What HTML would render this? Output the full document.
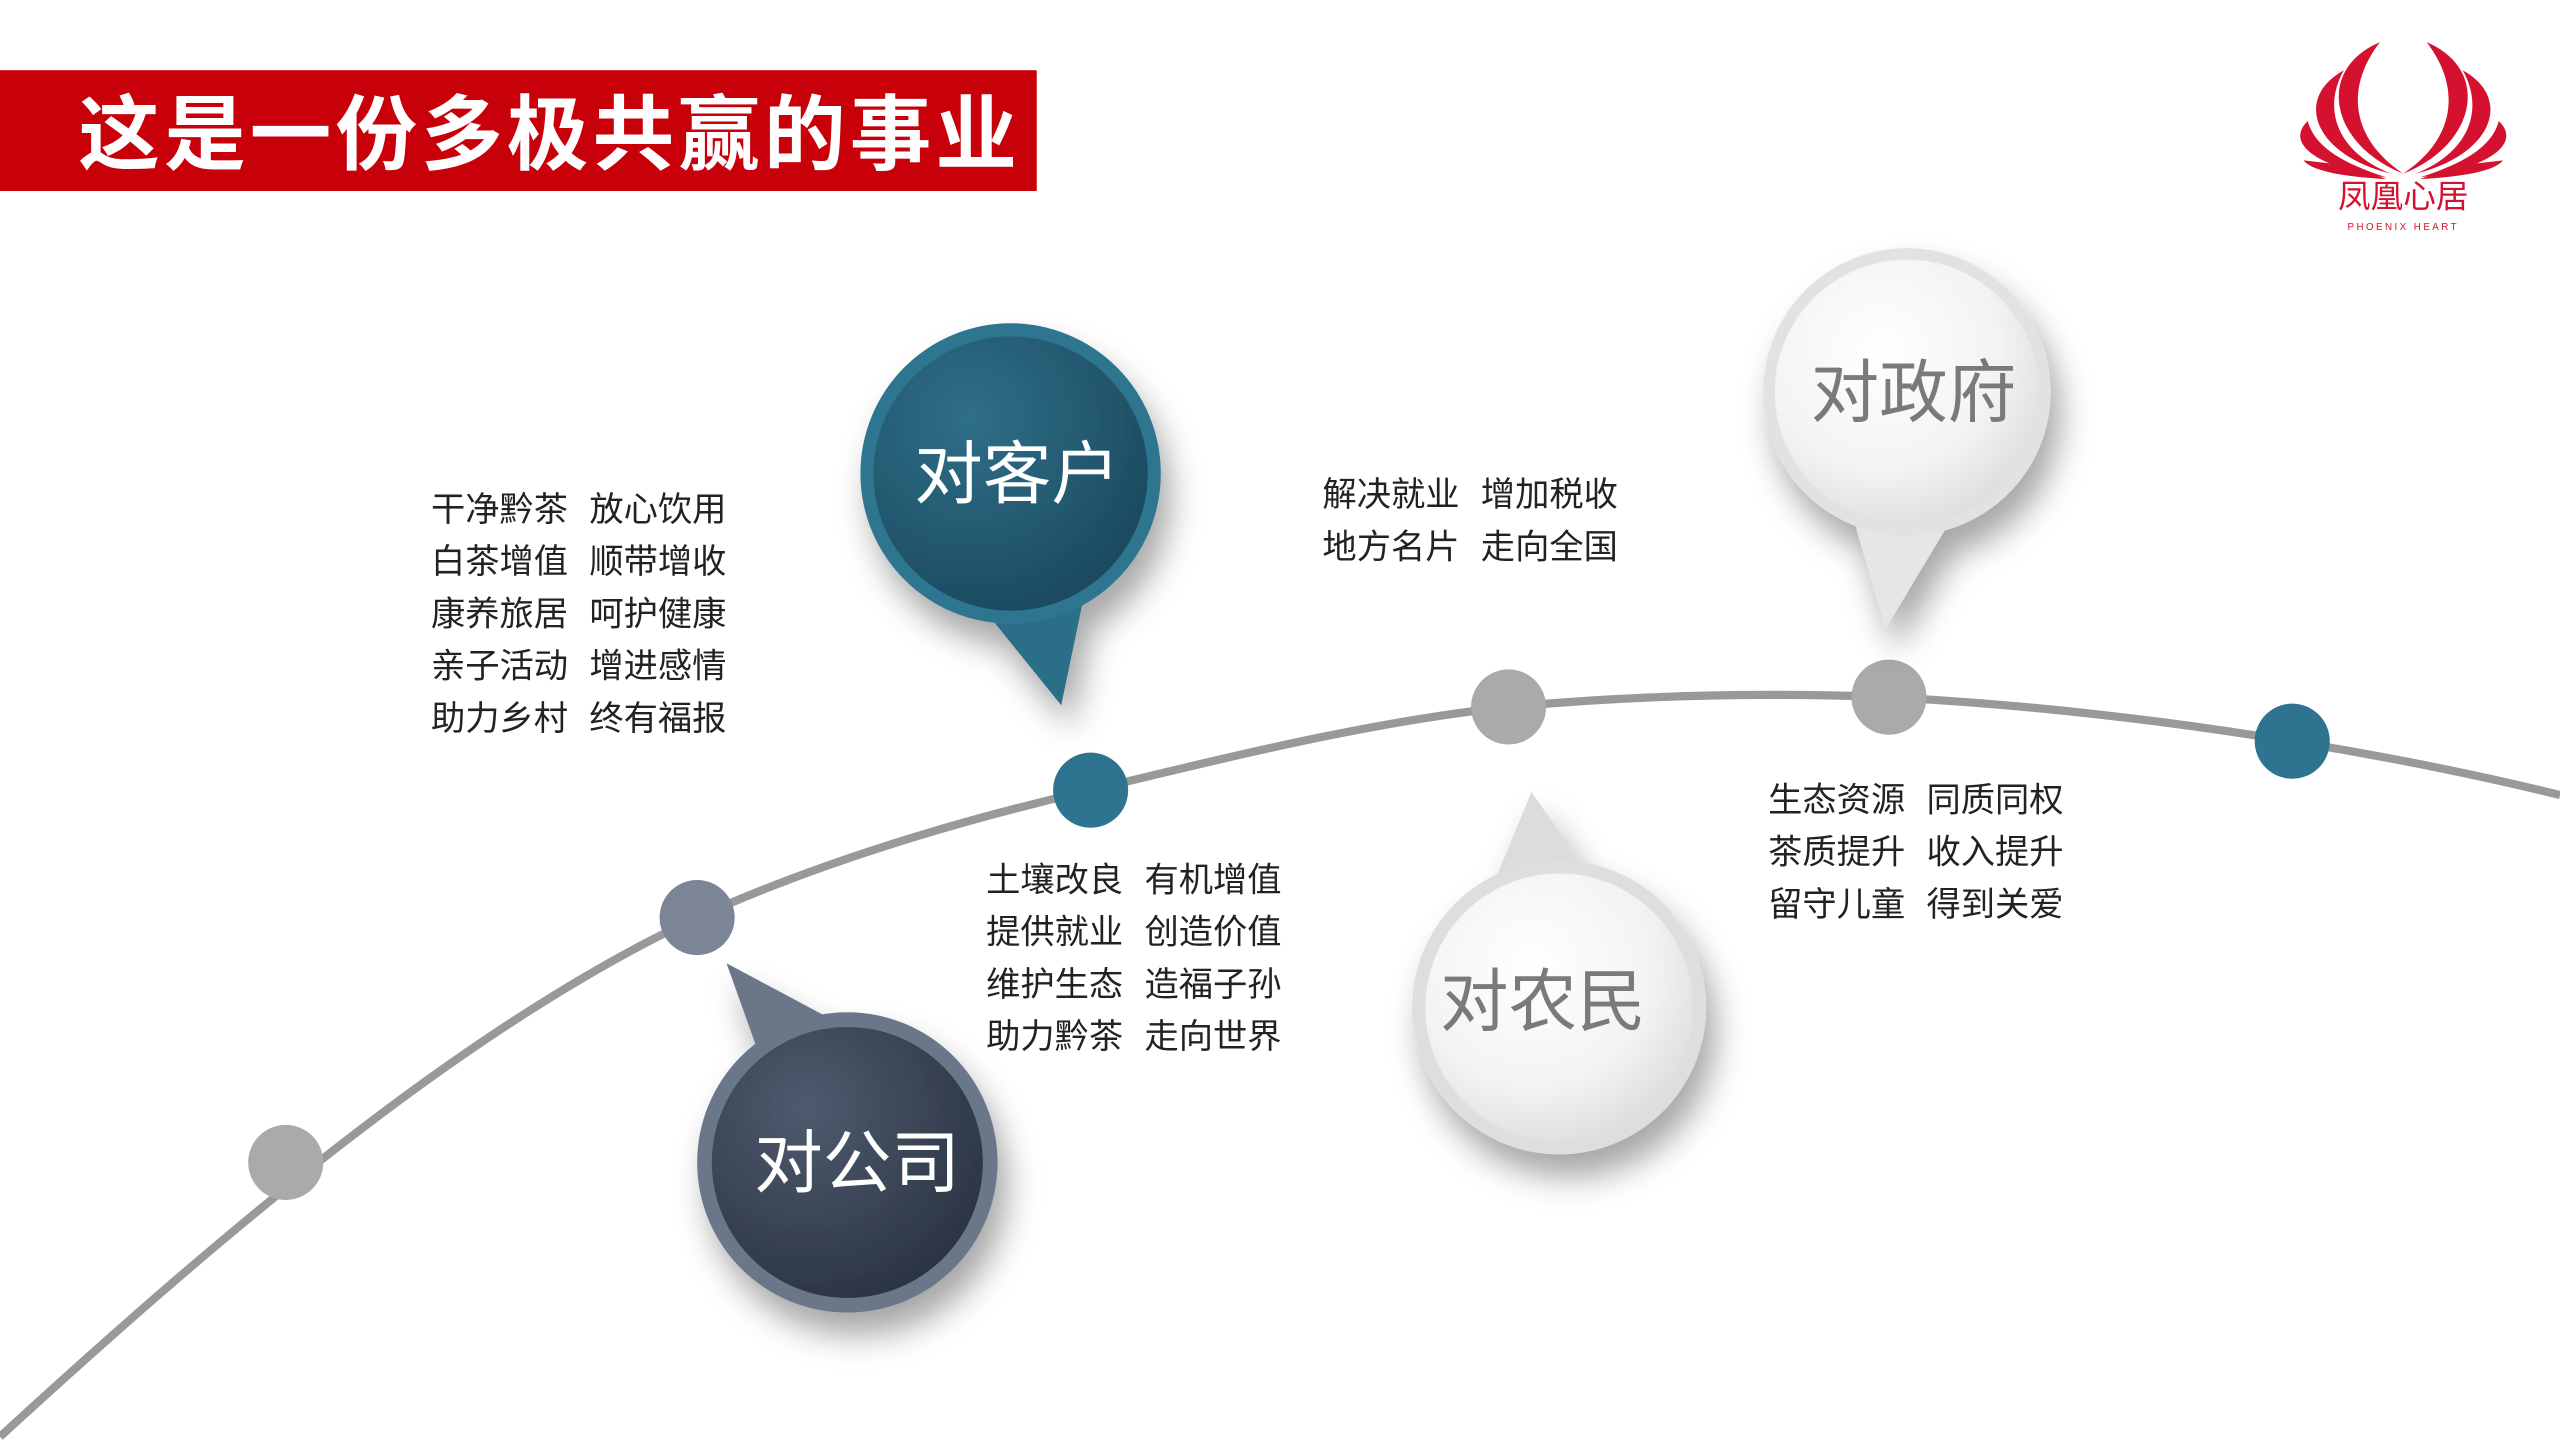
<!DOCTYPE html>
<html><head><meta charset="utf-8"><style>
html,body{margin:0;padding:0;background:#fff;width:2560px;height:1440px;overflow:hidden}
svg{display:block}
text{font-family:"Liberation Sans","Noto Sans CJK SC",sans-serif}
</style></head><body>
<svg width="2560" height="1440" viewBox="0 0 1568 882" xmlns="http://www.w3.org/2000/svg">
<defs>
<filter id="sh" x="-50%" y="-50%" width="200%" height="200%"><feDropShadow dx="6" dy="14" stdDeviation="10" flood-color="#000" flood-opacity="0.35"/></filter>
<radialGradient id="teal" cx="35%" cy="30%" r="75%"><stop offset="0" stop-color="#2f6f88"/><stop offset="1" stop-color="#1b4a60"/></radialGradient>
<radialGradient id="slate" cx="35%" cy="30%" r="75%"><stop offset="0" stop-color="#4e5b6e"/><stop offset="1" stop-color="#2b3443"/></radialGradient>
<radialGradient id="light" cx="40%" cy="35%" r="75%"><stop offset="0" stop-color="#ffffff"/><stop offset="0.6" stop-color="#f3f3f3"/><stop offset="1" stop-color="#d8d8d8"/></radialGradient>
</defs>
<rect width="1568" height="882" fill="#fff"/>
<rect x="0" y="43" width="635" height="74" fill="#c8000a"/>
<text x="48" y="100" font-size="50" font-weight="bold" fill="#fff" letter-spacing="2.5">这是一份多极共赢的事业</text>
<g fill="#d4112e" transform="translate(1472 58) scale(1.3 1.15) translate(-1472 -58)">
<path d="M1461 30 C1430 45 1438 85 1472 100 C1448 82 1444 55 1461 30Z"/>
<path d="M1483 30 C1514 45 1506 85 1472 100 C1496 82 1500 55 1483 30Z"/>
<path d="M1444 45 C1420 60 1430 90 1466 100 C1440 88 1434 65 1444 45Z"/>
<path d="M1500 45 C1524 60 1514 90 1478 100 C1504 88 1510 65 1500 45Z"/>
<path d="M1427 72 C1415 85 1435 98 1464 102 C1442 94 1430 85 1427 72Z"/>
<path d="M1517 72 C1529 85 1509 98 1480 102 C1502 94 1514 85 1517 72Z"/>
<path d="M1425 93 C1430 100 1450 102 1464 103 L1448 96Z"/>
<path d="M1519 93 C1514 100 1494 102 1480 103 L1496 96Z"/>
</g>
<text x="1472" y="127" font-size="20" fill="#d4112e" text-anchor="middle">凤凰心居</text>
<text x="1472" y="141" font-size="6" fill="#d4112e" text-anchor="middle" letter-spacing="1.5">PHOENIX HEART</text>
<path d="M0 880 C120 770 280 630 427 562 C520 520 620 495 668 484 C760 462 840 442 924 433 C1000 426 1080 424 1157 427 C1250 432 1330 442 1404 454 C1460 463 1520 475 1568 487" fill="none" stroke="#999" stroke-width="5"/>
<circle cx="175" cy="712" r="23" fill="#aaa"/>
<circle cx="427" cy="562" r="23" fill="#7b8596"/>
<circle cx="668" cy="484" r="23" fill="#2e7490"/>
<circle cx="924" cy="433" r="23" fill="#aaa"/>
<circle cx="1157" cy="427" r="23" fill="#aaa"/>
<circle cx="1404" cy="454" r="23" fill="#2e7490"/>
<g filter="url(#sh)">
<path d="M600 370 L650 432 L665 360Z" fill="#2b6e88"/>
<circle cx="619" cy="290" r="92" fill="#2e7490"/>
<circle cx="619" cy="290" r="84" fill="url(#teal)"/>
</g>
<text x="623" y="305" font-size="42" fill="#fff" text-anchor="middle">对客户</text>
<g filter="url(#sh)">
<path d="M1130 300 L1155 385 L1200 310Z" fill="#e6e6e6"/>
<circle cx="1168" cy="240" r="88" fill="#e2e2e2"/>
<circle cx="1168" cy="240" r="81" fill="url(#light)"/>
</g>
<text x="1172" y="255" font-size="42" fill="#7a7a7a" text-anchor="middle">对政府</text>
<g filter="url(#sh)">
<path d="M445 590 L520 630 L470 660Z" fill="#6b7789"/>
<circle cx="519" cy="712" r="92" fill="#6b7789"/>
<circle cx="519" cy="712" r="83" fill="url(#slate)"/>
</g>
<text x="525" y="727" font-size="42" fill="#fff" text-anchor="middle">对公司</text>
<g filter="url(#sh)">
<path d="M938 485 L905 565 L980 545Z" fill="#dcdcdc"/>
<circle cx="955" cy="617" r="90" fill="#dedede"/>
<circle cx="955" cy="617" r="82" fill="url(#light)"/>
</g>
<text x="945" y="628" font-size="42" fill="#7a7a7a" text-anchor="middle">对农民</text>
<g font-size="21" fill="#222">
<text x="264" y="319">干净黔茶</text><text x="361" y="319">放心饮用</text>
<text x="264" y="351">白茶增值</text><text x="361" y="351">顺带增收</text>
<text x="264" y="383">康养旅居</text><text x="361" y="383">呵护健康</text>
<text x="264" y="415">亲子活动</text><text x="361" y="415">增进感情</text>
<text x="264" y="447">助力乡村</text><text x="361" y="447">终有福报</text>
<text x="810" y="310">解决就业</text><text x="907" y="310">增加税收</text>
<text x="810" y="342">地方名片</text><text x="907" y="342">走向全国</text>
<text x="604" y="546">土壤改良</text><text x="701" y="546">有机增值</text>
<text x="604" y="578">提供就业</text><text x="701" y="578">创造价值</text>
<text x="604" y="610">维护生态</text><text x="701" y="610">造福子孙</text>
<text x="604" y="642">助力黔茶</text><text x="701" y="642">走向世界</text>
<text x="1083" y="497">生态资源</text><text x="1180" y="497">同质同权</text>
<text x="1083" y="529">茶质提升</text><text x="1180" y="529">收入提升</text>
<text x="1083" y="561">留守儿童</text><text x="1180" y="561">得到关爱</text>
</g>
</svg>
</body></html>
